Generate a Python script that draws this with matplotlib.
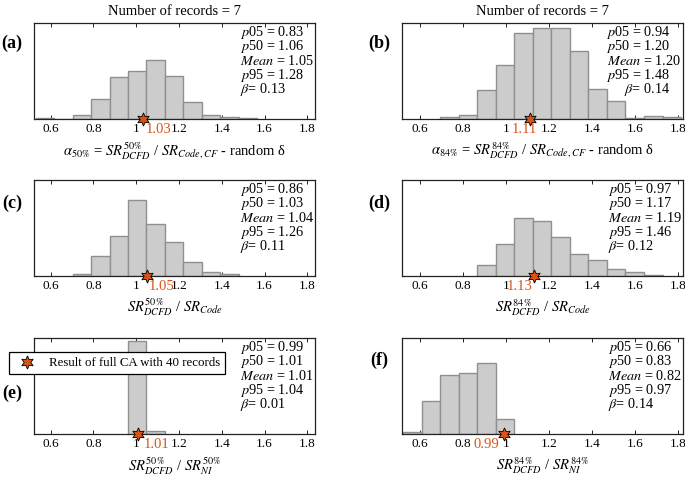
import matplotlib
matplotlib.use("Agg")
import matplotlib.pyplot as plt
import numpy as np

plt.rcParams['font.family'] = ['Liberation Serif', 'DejaVu Serif']
plt.rcParams['mathtext.fontset'] = 'stix'

# ---------------- data ----------------
panel_labels = ["(a)", "(b)", "(c)", "(d)", "(e)", "(f)"]
title_text = "Number of records = 7"

bin_width = 0.0862
bin_start_left = 0.703   # left column first full bin edge
bin_start_right = 0.694  # right column first full bin edge

# bins indexed relative to bin_start, heights in relative frequency units (axes max = 288)
bins_a = [-2, -1, 0, 1, 2, 3, 4, 5, 6, 7, 8, 9]
hist_a = [3, 0, 12, 61, 128, 144, 179, 131, 51, 11, 6, 4]
bins_b = [0, 1, 2, 3, 4, 5, 6, 7, 8, 9, 10, 11, 12]
hist_b = [5, 12, 86, 162, 260, 274, 274, 205, 91, 54, 4, 10, 7]
bins_c = [0, 1, 2, 3, 4, 5, 6, 7, 8]
hist_c = [4, 59, 120, 229, 156, 102, 42, 11, 6]
bins_d = [2, 3, 4, 5, 6, 7, 8, 9, 10, 11]
hist_d = [31, 96, 174, 166, 117, 66, 47, 19, 11, 3]
bins_e = [3, 4]
hist_e = [279, 10]
bins_f = [-2, -1, 0, 1, 2, 3]
hist_f = [5, 101, 179, 183, 213, 46]

full_ca = [1.03, 1.11, 1.05, 1.13, 1.01, 0.99]

stats_p05 = ["0.83", "0.94", "0.86", "0.97", "0.99", "0.66"]
stats_p50 = ["1.06", "1.20", "1.03", "1.17", "1.01", "0.83"]
stats_mean = ["1.05", "1.20", "1.04", "1.19", "1.01", "0.82"]
stats_p95 = ["1.28", "1.48", "1.26", "1.46", "1.04", "0.97"]
stats_beta = ["0.13", "0.14", "0.11", "0.12", "0.01", "0.14"]

xlabels = [
    r"$\alpha_{50\%}$ = $SR^{50\%}_{DCFD}$ / $SR_{Code,CF}$ - random δ",
    r"$\alpha_{84\%}$ = $SR^{84\%}_{DCFD}$ / $SR_{Code,CF}$ - random δ",
    r"$SR^{50\%}_{DCFD}$ / $SR_{Code}$",
    r"$SR^{84\%}_{DCFD}$ / $SR_{Code}$",
    r"$SR^{50\%}_{DCFD}$ / $SR^{50\%}_{NI}$",
    r"$SR^{84\%}_{DCFD}$ / $SR^{84\%}_{NI}$",
]
xticks = [0.6, 0.8, 1.0, 1.2, 1.4, 1.6, 1.8]
xticklabels = ["0.6", "0.8", "1", "1.2", "1.4", "1.6", "1.8"]
legend_text = "Result of full CA with 40 records"

# ---------------- layout ----------------
W, H = 685, 478
fig = plt.figure(figsize=(W / 100, H / 100), dpi=100)

col_left = [34, 402.3]
col_width = 281
row_top = [23.3, 180, 338.3]
row_height = 95.8

bins_all = [bins_a, bins_b, bins_c, bins_d, bins_e, bins_f]
hist_all = [hist_a, hist_b, hist_c, hist_d, hist_e, hist_f]

star_color = '#d95319'
label_offsets = [(2, 'left'), (-4, 'center'), (1, 'left'), (-1, 'right'), (4, 'left'), (-3, 'right')]
panel_label_pos = [(12, 43), (379.5, 43), (12, 203), (379, 203), (12, 393), (379, 360)]
xlims = [(0.522, 1.836), (0.518, 1.825)]

for i in range(6):
    r, c = divmod(i, 2)
    left = col_left[c]
    top = row_top[r]
    ax = fig.add_axes([left / W, 1 - (top + row_height) / H, col_width / W, row_height / H])
    start = bin_start_left if c == 0 else bin_start_right
    lefts = [start + k * bin_width for k in bins_all[i]]
    ax.bar(lefts, hist_all[i], width=bin_width, align='edge',
           color='#cccccc', edgecolor='#8f8f8f', linewidth=1.0, zorder=2)
    ax.set_xlim(*xlims[c])
    ax.set_ylim(0, 288)
    ax.set_yticks([])
    ax.set_xticks(xticks)
    ax.set_xticklabels(xticklabels, fontsize=9.5)
    ax.tick_params(axis='x', direction='in', length=3, width=0.6, top=True, pad=3)
    for s in ax.spines.values():
        s.set_linewidth(0.9)
        s.set_color('#222222')
    ax.plot([full_ca[i]], [0], marker=(6, 1, 0), markersize=9.5, color=star_color,
            markeredgecolor='black', markeredgewidth=0.6, linestyle='none',
            clip_on=False, zorder=5, label=legend_text)
    off, ha = label_offsets[i]
    ax.annotate(f"{full_ca[i]:.2f}", xy=(full_ca[i], 0), xycoords=('data', 'axes fraction'),
                xytext=(off, -10), textcoords='offset points', ha=ha, va='baseline',
                color=star_color, fontsize=10.5)
    ax.set_xlabel(xlabels[i], fontsize=10.5, labelpad=3.5)

    lines = [r"$p$05 = " + stats_p05[i], r"$p$50 = " + stats_p50[i],
             r"$Mean$ = " + stats_mean[i], r"$p$95 = " + stats_p95[i],
             r"$\beta$= " + stats_beta[i]]
    for j, t in enumerate(lines):
        yf = 1 - (9 + 14.4 * j) / row_height
        if i == 1:
            xf, hh = (0.993 if j == 2 else 0.953), 'right'
        else:
            xf, hh = 0.733, 'left'
        ax.text(xf, yf, t, transform=ax.transAxes, ha=hh, va='center', fontsize=10.3)

    if r == 0:
        ax.set_title(title_text, fontsize=10.5, pad=6)

    px, py = panel_label_pos[i]
    fig.text(px / W, 1 - py / H, panel_labels[i], ha='center', va='center',
             fontsize=13, fontweight='bold')

    if i == 4:
        leg = ax.legend(loc='upper left', bbox_to_anchor=(-0.089, 0.856), borderaxespad=0,
                        fancybox=False, framealpha=1, edgecolor='black', fontsize=9.3,
                        handletextpad=0.7, borderpad=0.4, handlelength=2.0)
        leg.get_frame().set_linewidth(0.9)

fig.savefig("out.png", dpi=100)
